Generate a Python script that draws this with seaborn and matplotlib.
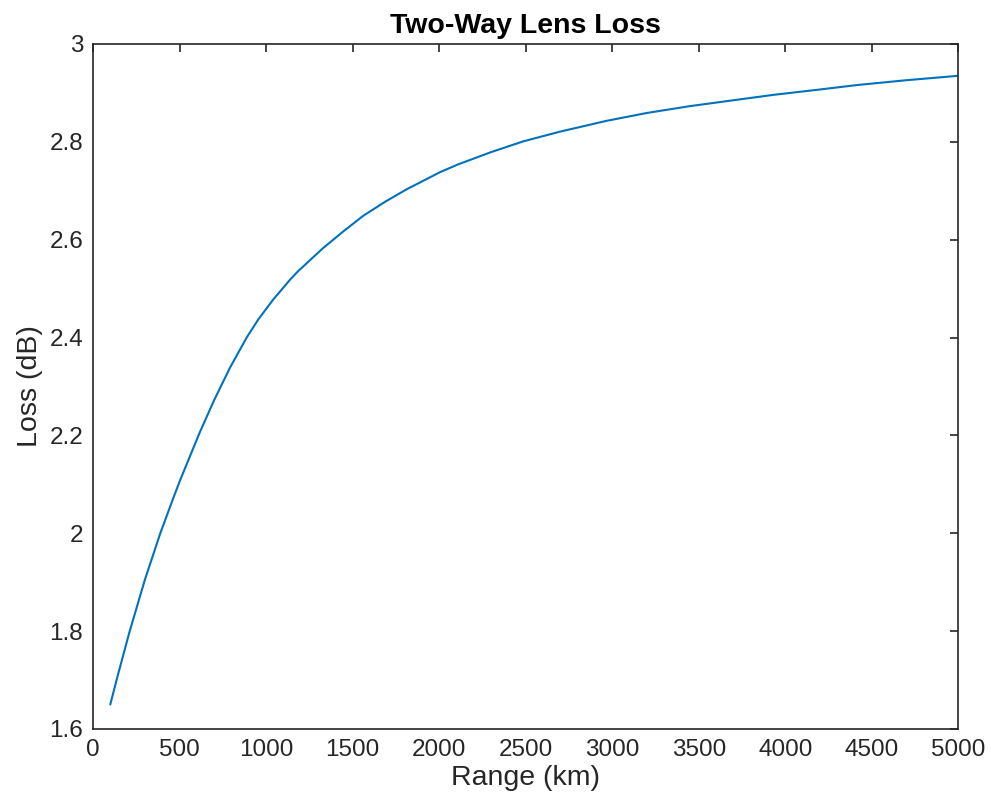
import numpy as np
import pandas as pd
import seaborn as sns
import matplotlib
matplotlib.use('Agg')
import matplotlib.pyplot as plt

# values
range_km = [100, 140, 210, 300, 389, 460, 503, 618, 700, 791, 888, 955, 1042,
            1138, 1186, 1330, 1450, 1562, 1690, 1812, 2005, 2110, 2300, 2486,
            2700, 2968, 3200, 3449, 3700, 3930, 4200, 4412, 4700, 5000]
loss_db = [1.650, 1.705, 1.797, 1.905, 2.000, 2.068, 2.108, 2.207, 2.272, 2.338,
           2.400, 2.437, 2.478, 2.518, 2.536, 2.583, 2.618, 2.649, 2.678, 2.703,
           2.738, 2.754, 2.779, 2.801, 2.821, 2.843, 2.859, 2.873, 2.885, 2.896,
           2.907, 2.916, 2.926, 2.935]

df = pd.DataFrame({'Range (km)': range_km, 'Loss (dB)': loss_db})

sns.set_style('white')
plt.rcParams['font.family'] = ['Liberation Sans', 'DejaVu Sans']
txt = '#262626'

fig = plt.figure(figsize=(9.91, 8.07), dpi=100)
ax = fig.add_axes([0.0938, 0.0967, 0.8734, 0.8488])

sns.lineplot(data=df, x='Range (km)', y='Loss (dB)', ax=ax, color='#0072BD', linewidth=1.5)

ax.set_xlim(0, 5000)
ax.set_ylim(1.6, 3)
ax.set_xticks(np.arange(0, 5001, 500))
ax.set_yticks([1.6, 1.8, 2.0, 2.2, 2.4, 2.6, 2.8, 3.0])
ax.set_yticklabels(['1.6', '1.8', '2', '2.2', '2.4', '2.6', '2.8', '3'])

ax.tick_params(direction='in', length=6, width=1.2, colors=txt, labelsize=17.5,
               top=True, right=True, pad=7)
for s in ax.spines.values():
    s.set_color(txt)
    s.set_linewidth(1.2)

ax.set_xlabel('Range (km)', fontsize=20.5, color=txt, labelpad=3)
ax.set_ylabel('Loss (dB)', fontsize=20.5, color=txt, labelpad=5)
ax.set_title('Two-Way Lens Loss', fontsize=20.5, fontweight='bold', color='black', pad=8)

plt.savefig('out.png', dpi=100)
